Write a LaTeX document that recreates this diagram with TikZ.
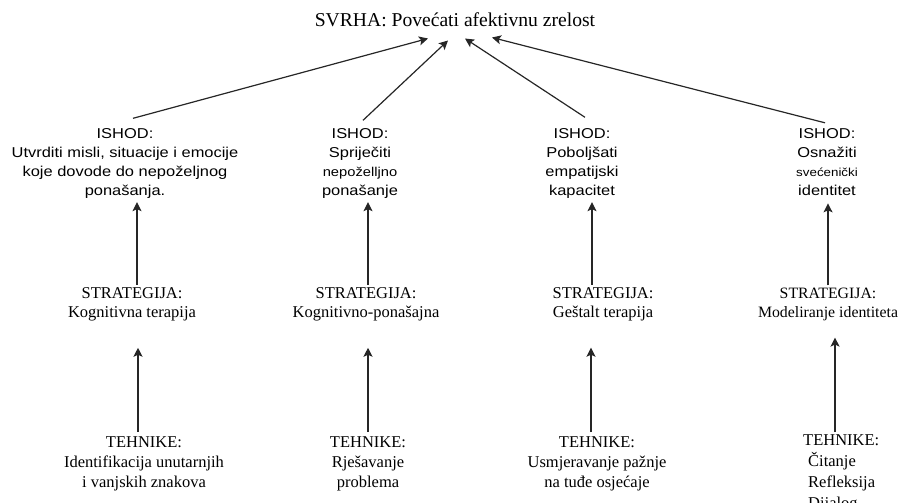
\documentclass[tikz,border=0pt]{standalone}
\usepackage{fontspec}
\setmainfont{Liberation Serif}
\newfontfamily\ishodfont[FakeStretch=1.15]{Liberation Sans}
\usetikzlibrary{arrows.meta}
\begin{document}
\begin{tikzpicture}[x=1pt,y=-1pt,
  titlestyle/.style={font={\fontsize{19.6}{24}\selectfont}, inner sep=0pt, anchor=base},
  ishodstyle/.style={font={\ishodfont\fontsize{14.3}{19}\selectfont}, align=center, inner sep=0pt, anchor=base},
  stratstyle/.style={font={\fontsize{16.5}{19}\selectfont}, align=center, inner sep=0pt, anchor=base},
  tehstyle/.style={font={\fontsize{16.5}{20}\selectfont}, align=center, inner sep=0pt, anchor=base},
  arr/.style={-{Stealth[length=9pt,width=9pt,inset=2pt]}, line width=1.2pt, draw=black!85},
]
\useasboundingbox (0,0) rectangle (899,503);

% goal
\node[titlestyle] (goal) at (455,27) {SVRHA: Povećati afektivnu zrelost};

% outcomes (anchor = baseline of last line)
\node[ishodstyle] (i1) at (125,195) {ISHOD:\\Utvrditi misli, situacije i emocije\\koje dovode do nepoželjnog\\ponašanja.};
\node[ishodstyle] (i2) at (360,195) {ISHOD:\\Spriječiti\\{\fontsize{12.8}{19}\selectfont nepoželljno}\\ponašanje};
\node[ishodstyle] (i3) at (582,195) {ISHOD:\\Poboljšati\\empatijski\\kapacitet};
\node[ishodstyle] (i4) at (827,195) {ISHOD:\\Osnažiti\\{\fontsize{11.6}{19}\selectfont svećenički}\\identitet};

% strategies
\node[stratstyle] (s1) at (132,317) {STRATEGIJA:\\Kognitivna terapija};
\node[stratstyle] (s2) at (366,317) {STRATEGIJA:\\Kognitivno-ponašajna};
\node[stratstyle] (s3) at (603,317) {STRATEGIJA:\\Geštalt terapija};
\node[stratstyle, font={\fontsize{15.8}{19}\selectfont}] (s4) at (828,317) {STRATEGIJA:\\Modeliranje identiteta};

% techniques
\node[tehstyle] (t1) at (144,487) {TEHNIKE:\\Identifikacija unutarnjih\\i vanjskih znakova};
\node[tehstyle] (t2) at (368,487) {TEHNIKE:\\Rješavanje\\problema};
\node[tehstyle] (t3) at (597,487) {TEHNIKE:\\Usmjeravanje pažnje\\na tuđe osjećaje};
\node[font={\fontsize{16.5}{21}\selectfont}, align=left, inner sep=0pt, anchor=base west] (t4) at (803,508) {TEHNIKE:\\\hspace*{5pt}Čitanje\\\hspace*{5pt}Refleksija\\\hspace*{5pt}Dijalog};

% x positions of vertical connectors
\coordinate (xa1) at (137,0);
\coordinate (xa2) at (368,0);
\coordinate (xa3) at (592,0);
\coordinate (xa4) at (828,0);
\coordinate (xb1) at (138,0);
\coordinate (xb2) at (368,0);
\coordinate (xb3) at (591,0);
\coordinate (xb4) at (835,0);

% outcomes -> goal
\draw[arr] ([shift={(8,-9.5)}]i1.north) -- ([shift={(-27,11)}]goal.south);
\draw[arr] ([shift={(3,-7.5)}]i2.north) -- ([shift={(-7,13)}]goal.south);
\draw[arr] ([shift={(3,-10.5)}]i3.north) -- ([shift={(10,11)}]goal.south);
\draw[arr] ([shift={(-2,-5)}]i4.north) -- ([shift={(37,10)}]goal.south);

% strategies -> outcomes
\draw[arr, shorten <=2pt, shorten >=4pt] (s1.north -| xa1) -- (i1.south -| xa1);
\draw[arr, shorten <=2pt, shorten >=4pt] (s2.north -| xa2) -- (i2.south -| xa2);
\draw[arr, shorten <=2pt, shorten >=4pt] (s3.north -| xa3) -- (i3.south -| xa3);
\draw[arr, shorten <=2pt, shorten >=8pt] (s4.north -| xa4) -- (i4.south -| xa4);

% techniques -> strategies
\draw[arr, shorten <=4pt, shorten >=27pt] (t1.north -| xb1) -- (s1.south -| xb1);
\draw[arr, shorten <=4pt, shorten >=27pt] (t2.north -| xb2) -- (s2.south -| xb2);
\draw[arr, shorten <=4pt, shorten >=27pt] (t3.north -| xb3) -- (s3.south -| xb3);
\draw[arr, shorten <=2pt, shorten >=17pt] (t4.north -| xb4) -- (s4.south -| xb4);
\end{tikzpicture}
\end{document}
